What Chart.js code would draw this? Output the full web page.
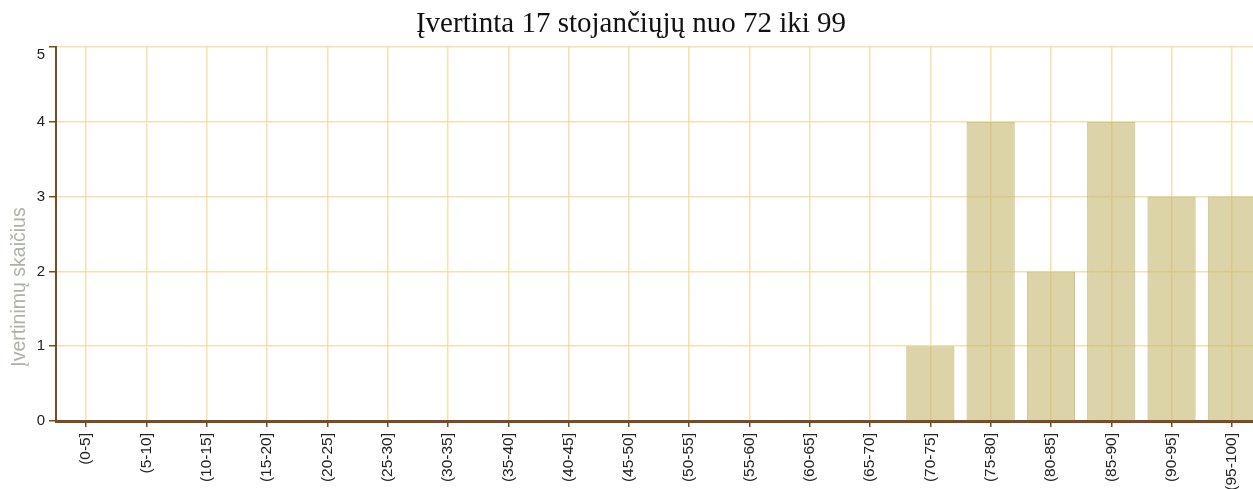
<!DOCTYPE html>
<html><head><meta charset="utf-8">
<script src="https://cdn.jsdelivr.net/npm/chart.js@4/dist/chart.umd.min.js"></script>
<style>
html,body{margin:0;padding:0;background:#fff;overflow:hidden;}
#wrap{width:1262px;height:489px;position:relative;}
</style></head><body>
<div id="wrap"><canvas id="c"></canvas></div>
<script>
const categories = ["(0-5]","(5-10]","(10-15]","(15-20]","(20-25]","(25-30]","(30-35]","(35-40]","(40-45]","(45-50]","(50-55]","(55-60]","(60-65]","(65-70]","(70-75]","(75-80]","(80-85]","(85-90]","(90-95]","(95-100]"];
const counts = [0,0,0,0,0,0,0,0,0,0,0,0,0,0,1,4,2,4,3,3];
const yTicks = [0,1,2,3,4,5];
const titleText = "Įvertinta 17 stojančiųjų nuo 72 iki 99";
const yTitleText = "Įvertinimų skaičius";

const brown = '#7a4a22';
const gridCol = 'rgba(245,220,160,0.85)';
const tickFont = '15px "Liberation Sans", Arial, sans-serif';
const yMax = yTicks[yTicks.length - 1];

const overlay = {
  id:'overlay',
  afterDraw(chart){
    const ctx = chart.ctx;
    ctx.save();
    ctx.fillStyle = '#111';
    ctx.font = '29px "Liberation Serif", "DejaVu Serif", serif';
    ctx.textAlign = 'center';
    ctx.textBaseline = 'alphabetic';
    ctx.fillText(titleText, 631, 32);
    // top y tick label kept inside the plot (as in reference)
    const ys = chart.scales.y;
    ctx.font = tickFont;
    ctx.fillStyle = '#222';
    ctx.textAlign = 'right';
    ctx.textBaseline = 'middle';
    ctx.fillText(String(yMax), ys.right - 11, ys.getPixelForValue(yMax) + 8);
    ctx.translate(25, 287);
    ctx.rotate(-Math.PI/2);
    ctx.textAlign = 'center';
    ctx.textBaseline = 'alphabetic';
    ctx.fillStyle = '#a9b5a2';
    ctx.font = '19.5px "Liberation Sans", Arial, sans-serif';
    ctx.fillText(yTitleText, 0, 0);
    ctx.restore();
  }
};

new Chart(document.getElementById('c'), {
  type:'bar',
  data:{labels:categories, datasets:[{
    data:counts,
    backgroundColor:'rgba(196,184,110,0.6)',
    borderColor:'rgba(185,172,95,0.75)',
    borderWidth:1,
    categoryPercentage:0.8,
    barPercentage:1.0
  }]},
  options:{
    responsive:true, maintainAspectRatio:false, animation:false,
    layout:{padding:{top:47,right:0,left:0,bottom:0}},
    plugins:{legend:{display:false}, title:{display:false}, tooltip:{enabled:false}},
    scales:{
      x:{
        afterFit(s){ s.height = 68; },
        grid:{color:gridCol, offset:false, tickColor:brown, tickLength:6, lineWidth:1.5, drawOnChartArea:true},
        border:{color:brown, width:3},
        ticks:{color:'#222', font:{size:15.5, family:'"Liberation Sans", Arial, sans-serif'}, minRotation:90, maxRotation:90, autoSkip:false, padding:6}
      },
      y:{
        min:0, max:yMax,
        afterFit(s){ s.width = 56; },
        afterBuildTicks(s){ s.ticks = yTicks.map(v=>({value:v})); },
        grid:{color:gridCol, tickColor:brown, tickLength:7, lineWidth:1.5},
        border:{color:brown, width:2},
        ticks:{color:'#222', font:{size:15, family:'"Liberation Sans", Arial, sans-serif'}, padding:4,
          callback:(v)=> v === yMax ? '' : String(v)}
      }
    }
  },
  plugins:[overlay]
});
</script>
</body></html>
